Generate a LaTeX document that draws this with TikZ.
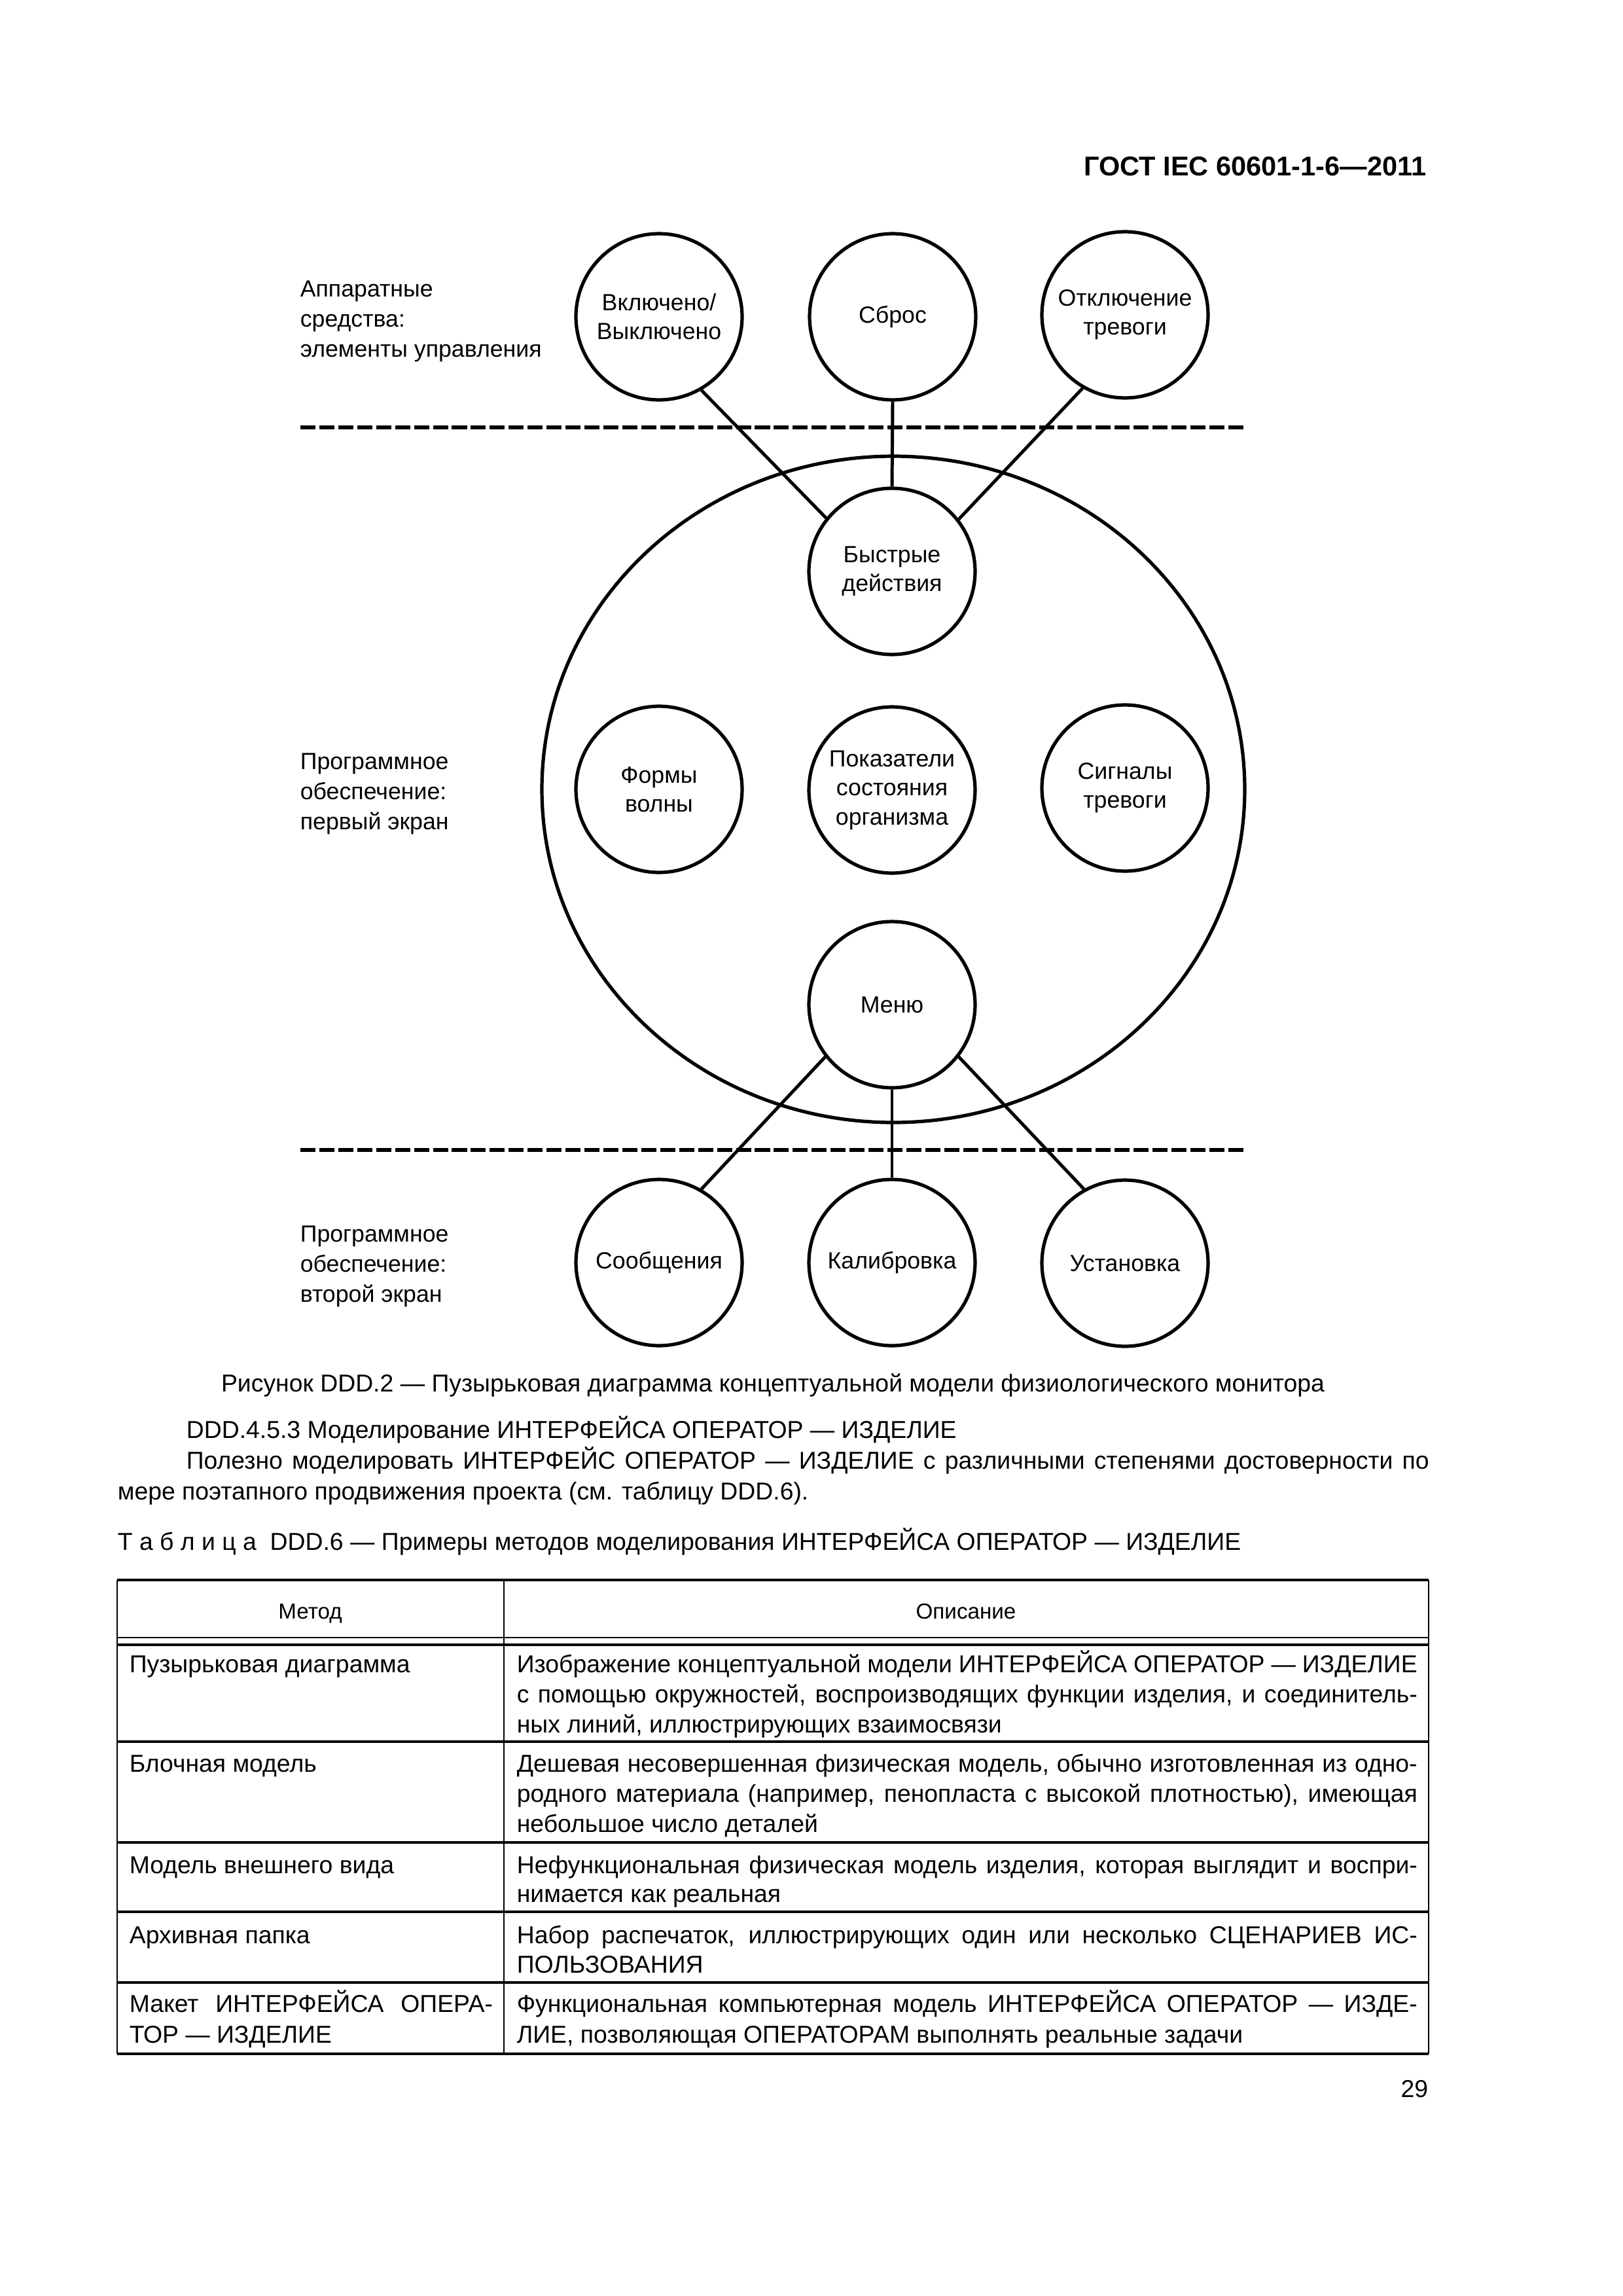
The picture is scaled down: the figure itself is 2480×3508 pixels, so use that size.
\documentclass[tikz,border=0pt]{standalone}
\usepackage{fontspec}
\setmainfont{Liberation Sans}
\usetikzlibrary{shapes.geometric}
\newcommand\jl[2]{\makebox[#1][s]{#2}}
\begin{document}
\begin{tikzpicture}[x=0.0846667mm,y=-0.0846667mm,
  bubble/.style={draw,circle,line width=0.44mm,minimum size=21.5mm,inner sep=0pt,align=center,font=\fontsize{8.6}{10.7}\selectfont},
  conn/.style={line width=0.42mm},
  sepline/.style={line width=0.52mm,dash pattern=on 1.95mm off 0.5mm},
  lbl/.style={anchor=west,align=left,inner sep=0pt,font=\fontsize{8.6}{11.1}\selectfont},
  txt/.style={anchor=base west,inner sep=0pt,font=\fontsize{9}{11}\selectfont},
  tbthick/.style={line width=0.32mm},
  tbthin/.style={line width=0.18mm},
  tbvert/.style={line width=0.22mm}]
\useasboundingbox (0,0) rectangle (2480,3508);

% header
\node[anchor=base east,inner sep=0pt,font=\bfseries\fontsize{10}{12}\selectfont] (hdr) at (2180,268) {ГОСТ IEC 60601-1-6—2011};

% left labels
\node[lbl] (l1) at (458,491) {Аппаратные\\средства:\\элементы управления};
\node[lbl] (l2) at (458,1213) {Программное\\обеспечение:\\первый экран};
\node[lbl] (l3) at (458,1935) {Программное\\обеспечение:\\второй экран};

% big ellipse
\node[draw,ellipse,line width=0.44mm,minimum width=90.93mm,minimum height=86.19mm,inner sep=0pt] (screen) at (1365,1206) {};

% dashed separators
\coordinate (d1a) at (459,653);
\coordinate (d1b) at (1900,653);
\coordinate (d2a) at (459,1757);
\coordinate (d2b) at (1900,1757);
\draw[sepline] (d1a) -- (d1b);
\draw[sepline] (d2a) -- (d2b);

% bubbles
\node[bubble] (vkl) at (1007,484) {Включено/\\Выключено};
\node[bubble] (sbr) at (1364,484) {Сброс};
\node[bubble] (otk) at (1719,481) {Отключение\\тревоги};
\node[bubble] (bys) at (1363,873) {Быстрые\\действия};
\node[bubble] (frm) at (1007,1206) {Формы\\волны};
\node[bubble] (pok) at (1363,1207) {Показатели\\состояния\\организма};
\node[bubble] (sig) at (1719,1204) {Сигналы\\тревоги};
\node[bubble] (men) at (1363,1535) {Меню};
\node[bubble] (soo) at (1007,1929) {Сообщения};
\node[bubble] (kal) at (1363,1929) {Калибровка};
\node[bubble] (ust) at (1719,1930) {Установка};

% connectors
\draw[conn] (vkl.-60) -- (bys.141);
\draw[conn] (sbr.south) -- (bys.north);
\draw[conn] (otk.-120) -- (bys.38);
\draw[conn] (men.-142) -- (soo.60);
\draw[conn] (men.south) -- (kal.north);
\draw[conn] (men.-38) -- (ust.119);

% caption and text
\node[anchor=base,inner sep=0pt,font=\fontsize{9}{11}\selectfont] (cap) at (1181,2126) {Рисунок DDD.2 — Пузырьковая диаграмма концептуальной модели физиологического монитора};
\node[txt] (p1) at (284,2197) {DDD.4.5.3 Моделирование ИНТЕРФЕЙСА ОПЕРАТОР — ИЗДЕЛИЕ};
\node[txt] (p2) at (284,2244) {\jl{160.78mm}{Полезно моделировать ИНТЕРФЕЙС ОПЕРАТОР — ИЗДЕЛИЕ с различными степенями достоверности по}};
\node[txt] (p3) at (179,2291) {мере поэтапного продвижения проекта (см. таблицу DDD.6).};
\node[txt] (p4) at (179,2368) {Т а б л и ц а\ \ DDD.6 — Примеры методов моделирования ИНТЕРФЕЙСА ОПЕРАТОР — ИЗДЕЛИЕ};

% table frame
\draw[tbthick] (179,2414) -- (2183,2414);
\draw[tbthin] (179,2502) -- (2183,2502);
\draw[tbthick] (179,2513) -- (2183,2513);
\draw[tbthick] (179,2661) -- (2183,2661);
\draw[tbthick] (179,2815) -- (2183,2815);
\draw[tbthick] (179,2921) -- (2183,2921);
\draw[tbthick] (179,3029) -- (2183,3029);
\draw[tbthick] (179,3138) -- (2183,3138);
\draw[tbvert] (179,2414) -- (179,3138);
\draw[tbvert] (770,2414) -- (770,3138);
\draw[tbvert] (2183,2414) -- (2183,3138);

% table header
\node[anchor=base,inner sep=0pt,font=\fontsize{8}{10}\selectfont] (th1) at (474,2473) {Метод};
\node[anchor=base,inner sep=0pt,font=\fontsize{8}{10}\selectfont] (th2) at (1476,2473) {Описание};

% row 1
\node[txt] (r1a) at (197,2555) {Пузырьковая диаграмма};
\node[txt] (r1b) at (789,2555) {\jl{116.5mm}{Изображение концептуальной модели ИНТЕРФЕЙСА ОПЕРАТОР — ИЗДЕЛИЕ}};
\node[txt] (r1c) at (789,2601) {\jl{116.5mm}{с помощью окружностей, воспроизводящих функции изделия, и соединитель-}};
\node[txt] (r1d) at (789,2647) {ных линий, иллюстрирующих взаимосвязи};
% row 2
\node[txt] (r2a) at (197,2707) {Блочная модель};
\node[txt] (r2b) at (789,2707) {\jl{116.5mm}{Дешевая несовершенная физическая модель, обычно изготовленная из одно-}};
\node[txt] (r2c) at (789,2753) {\jl{116.5mm}{родного материала (например, пенопласта с высокой плотностью), имеющая}};
\node[txt] (r2d) at (789,2799) {небольшое число деталей};
% row 3
\node[txt] (r3a) at (197,2862) {Модель внешнего вида};
\node[txt] (r3b) at (789,2862) {\jl{116.5mm}{Нефункциональная физическая модель изделия, которая выглядит и воспри-}};
\node[txt] (r3c) at (789,2906) {нимается как реальная};
% row 4
\node[txt] (r4a) at (197,2969) {Архивная папка};
\node[txt] (r4b) at (789,2969) {\jl{116.5mm}{Набор распечаток, иллюстрирующих один или несколько СЦЕНАРИЕВ ИС-}};
\node[txt] (r4c) at (789,3014) {ПОЛЬЗОВАНИЯ};
% row 5
\node[txt] (r5a) at (197,3074) {\jl{47mm}{Макет ИНТЕРФЕЙСА ОПЕРА-}};
\node[txt] (r5b) at (197,3121) {ТОР — ИЗДЕЛИЕ};
\node[txt] (r5c) at (789,3074) {\jl{116.5mm}{Функциональная компьютерная модель ИНТЕРФЕЙСА ОПЕРАТОР — ИЗДЕ-}};
\node[txt] (r5d) at (789,3121) {ЛИЕ, позволяющая ОПЕРАТОРАМ выполнять реальные задачи};

% page number
\node[anchor=base east,inner sep=0pt,font=\fontsize{9}{11}\selectfont] (pg) at (2183,3204) {29};
\end{tikzpicture}
\end{document}
